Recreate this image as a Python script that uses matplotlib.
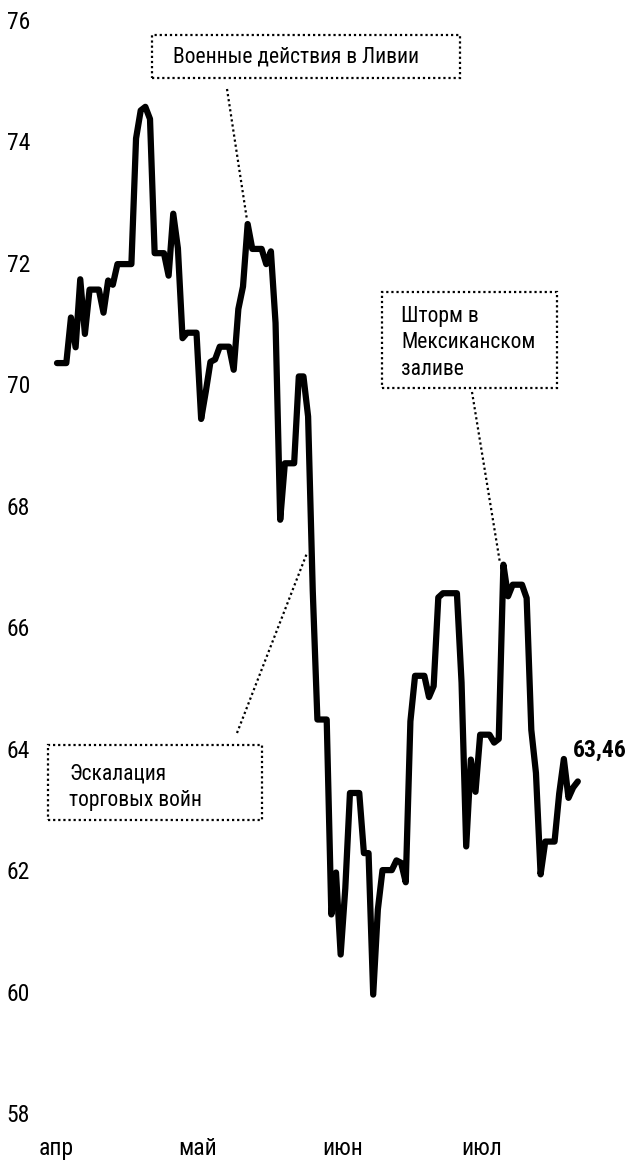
import pandas as pd
import matplotlib
matplotlib.use('Agg')
import matplotlib.pyplot as plt
import matplotlib.dates as mdates
from matplotlib import font_manager
from matplotlib.patches import Rectangle

# Brent, daily values (weekends carried over), from 5 Apr 2019
start = '2019-04-05'
brent = [
    70.35, 70.35, 70.35,
    71.10, 70.61, 71.73, 70.83, 71.56, 71.56, 71.56,
    71.18, 71.71, 71.64, 71.98, 71.98, 71.98, 71.98,
    74.05, 74.51, 74.57, 74.37, 72.16, 72.16, 72.16,
    71.79, 72.81, 72.24, 70.76, 70.85, 70.85, 70.85,
    69.43, 69.88, 70.37, 70.41, 70.62, 70.62, 70.62,
    70.24, 71.24, 71.61, 72.64, 72.23, 72.23, 72.23,
    71.98, 72.19, 71.01, 67.77, 68.70, 68.70, 68.70,
    70.13, 70.13, 69.47, 66.60, 64.48, 64.48, 64.48,
    61.27, 61.96, 60.61, 61.70, 63.27, 63.27, 63.27,
    62.28, 62.28, 59.95, 61.35, 62.00, 62.00, 62.00,
    62.16, 62.12, 61.80, 64.45, 65.20, 65.20, 65.20,
    64.85, 65.03, 66.49, 66.56, 66.56, 66.56, 66.56,
    65.09, 62.39, 63.82, 63.29, 64.23, 64.23, 64.23,
    64.10, 64.16, 67.03, 66.51, 66.70, 66.70, 66.70,
    66.48, 64.31, 63.60, 61.93, 62.47, 62.47, 62.47,
    63.26, 63.83, 63.19, 63.36, 63.46,
]
month_ticks = ['2019-04-01', '2019-05-01', '2019-06-01', '2019-07-01']
month_labels = ['апр', 'май', 'июн', 'июл']
y_ticks = [58, 60, 62, 64, 66, 68, 70, 72, 74, 76]
last_label = '63,46'
note_libya = 'Военные действия в Ливии'
note_storm = 'Шторм в\nМексиканском\nзаливе'
note_trade = 'Эскалация\nторговых войн'

dates = pd.date_range(start, periods=len(brent), freq='D')

# narrow sans, whichever is there
names = {f.name for f in font_manager.fontManager.ttflist}
main_font = 'Liberation Sans'
for cand in ['Liberation Sans Narrow', 'Roboto Condensed', 'PT Sans Narrow', 'Fira Sans Condensed']:
    if cand in names:
        main_font = cand
        break
plt.rcParams['font.family'] = [main_font, 'DejaVu Sans']
FS = 17 if main_font != 'Liberation Sans' else 15
NS = FS - 1.5  # notes a bit smaller

W, H = 634, 1162
fig = plt.figure(figsize=(W / 100, H / 100), dpi=100)


def fx(x):
    return x / W


def fy(y):
    return 1 - y / H


left_px, top_px, bottom_px = 38.4, 20, 1113
ax = fig.add_axes([fx(left_px), fy(bottom_px), 1 - fx(left_px), fy(top_px) - fy(bottom_px)])

ax.plot(dates, brent, color='black', lw=4.5, solid_joinstyle='round',
        solid_capstyle='round', clip_on=False, zorder=3)

x0 = pd.Timestamp('2019-04-01')
ax.set_xlim(mdates.date2num(x0), mdates.date2num(x0) + (W - left_px) / 4.65)
ax.set_ylim(58, 76)

ax.set_yticks(y_ticks)
ax.set_yticklabels([str(v) for v in y_ticks], fontsize=FS)
ax.set_xticks(mdates.date2num(pd.to_datetime(month_ticks)))
ax.set_xticklabels(month_labels, fontsize=FS, ha='left')
ax.tick_params(axis='both', length=0)
ax.tick_params(axis='y', pad=6)
ax.tick_params(axis='x', pad=17)
for s in ax.spines.values():
    s.set_visible(False)

# last value
ax.annotate(last_label, xy=(dates[-1], brent[-1]), xytext=(-5, 31),
            textcoords='offset pixels', ha='left', va='center',
            fontsize=FS, fontweight='bold', annotation_clip=False)

dot = (0, (1, 1.3))


def note_box(x1, y1, x2, y2):
    fig.add_artist(Rectangle((fx(x1), fy(y2)), fx(x2) - fx(x1), fy(y1) - fy(y2),
                             transform=fig.transFigure, fill=False,
                             ec='black', lw=1.6, ls=dot))


def leader(xa, ya, xb, yb):
    fig.add_artist(plt.Line2D([fx(xa), fx(xb)], [fy(ya), fy(yb)],
                              transform=fig.transFigure, color='black',
                              lw=1.6, ls=dot))


# Libya
note_box(152, 35, 460, 78)
fig.text(fx(173), fy(57), note_libya, fontsize=NS, ha='left', va='center')
leader(227, 89, 247, 220)

# storm
note_box(382, 292, 557, 388)
fig.text(fx(401), fy(343), note_storm, fontsize=NS, ha='left', va='center',
         linespacing=1.35)
leader(472, 392, 500, 563)

# trade war
note_box(48, 745, 262, 820)
fig.text(fx(69), fy(787), note_trade, fontsize=NS, ha='left', va='center',
         linespacing=1.35)
leader(237, 733, 307, 553)

fig.savefig('out.png', dpi=100)
